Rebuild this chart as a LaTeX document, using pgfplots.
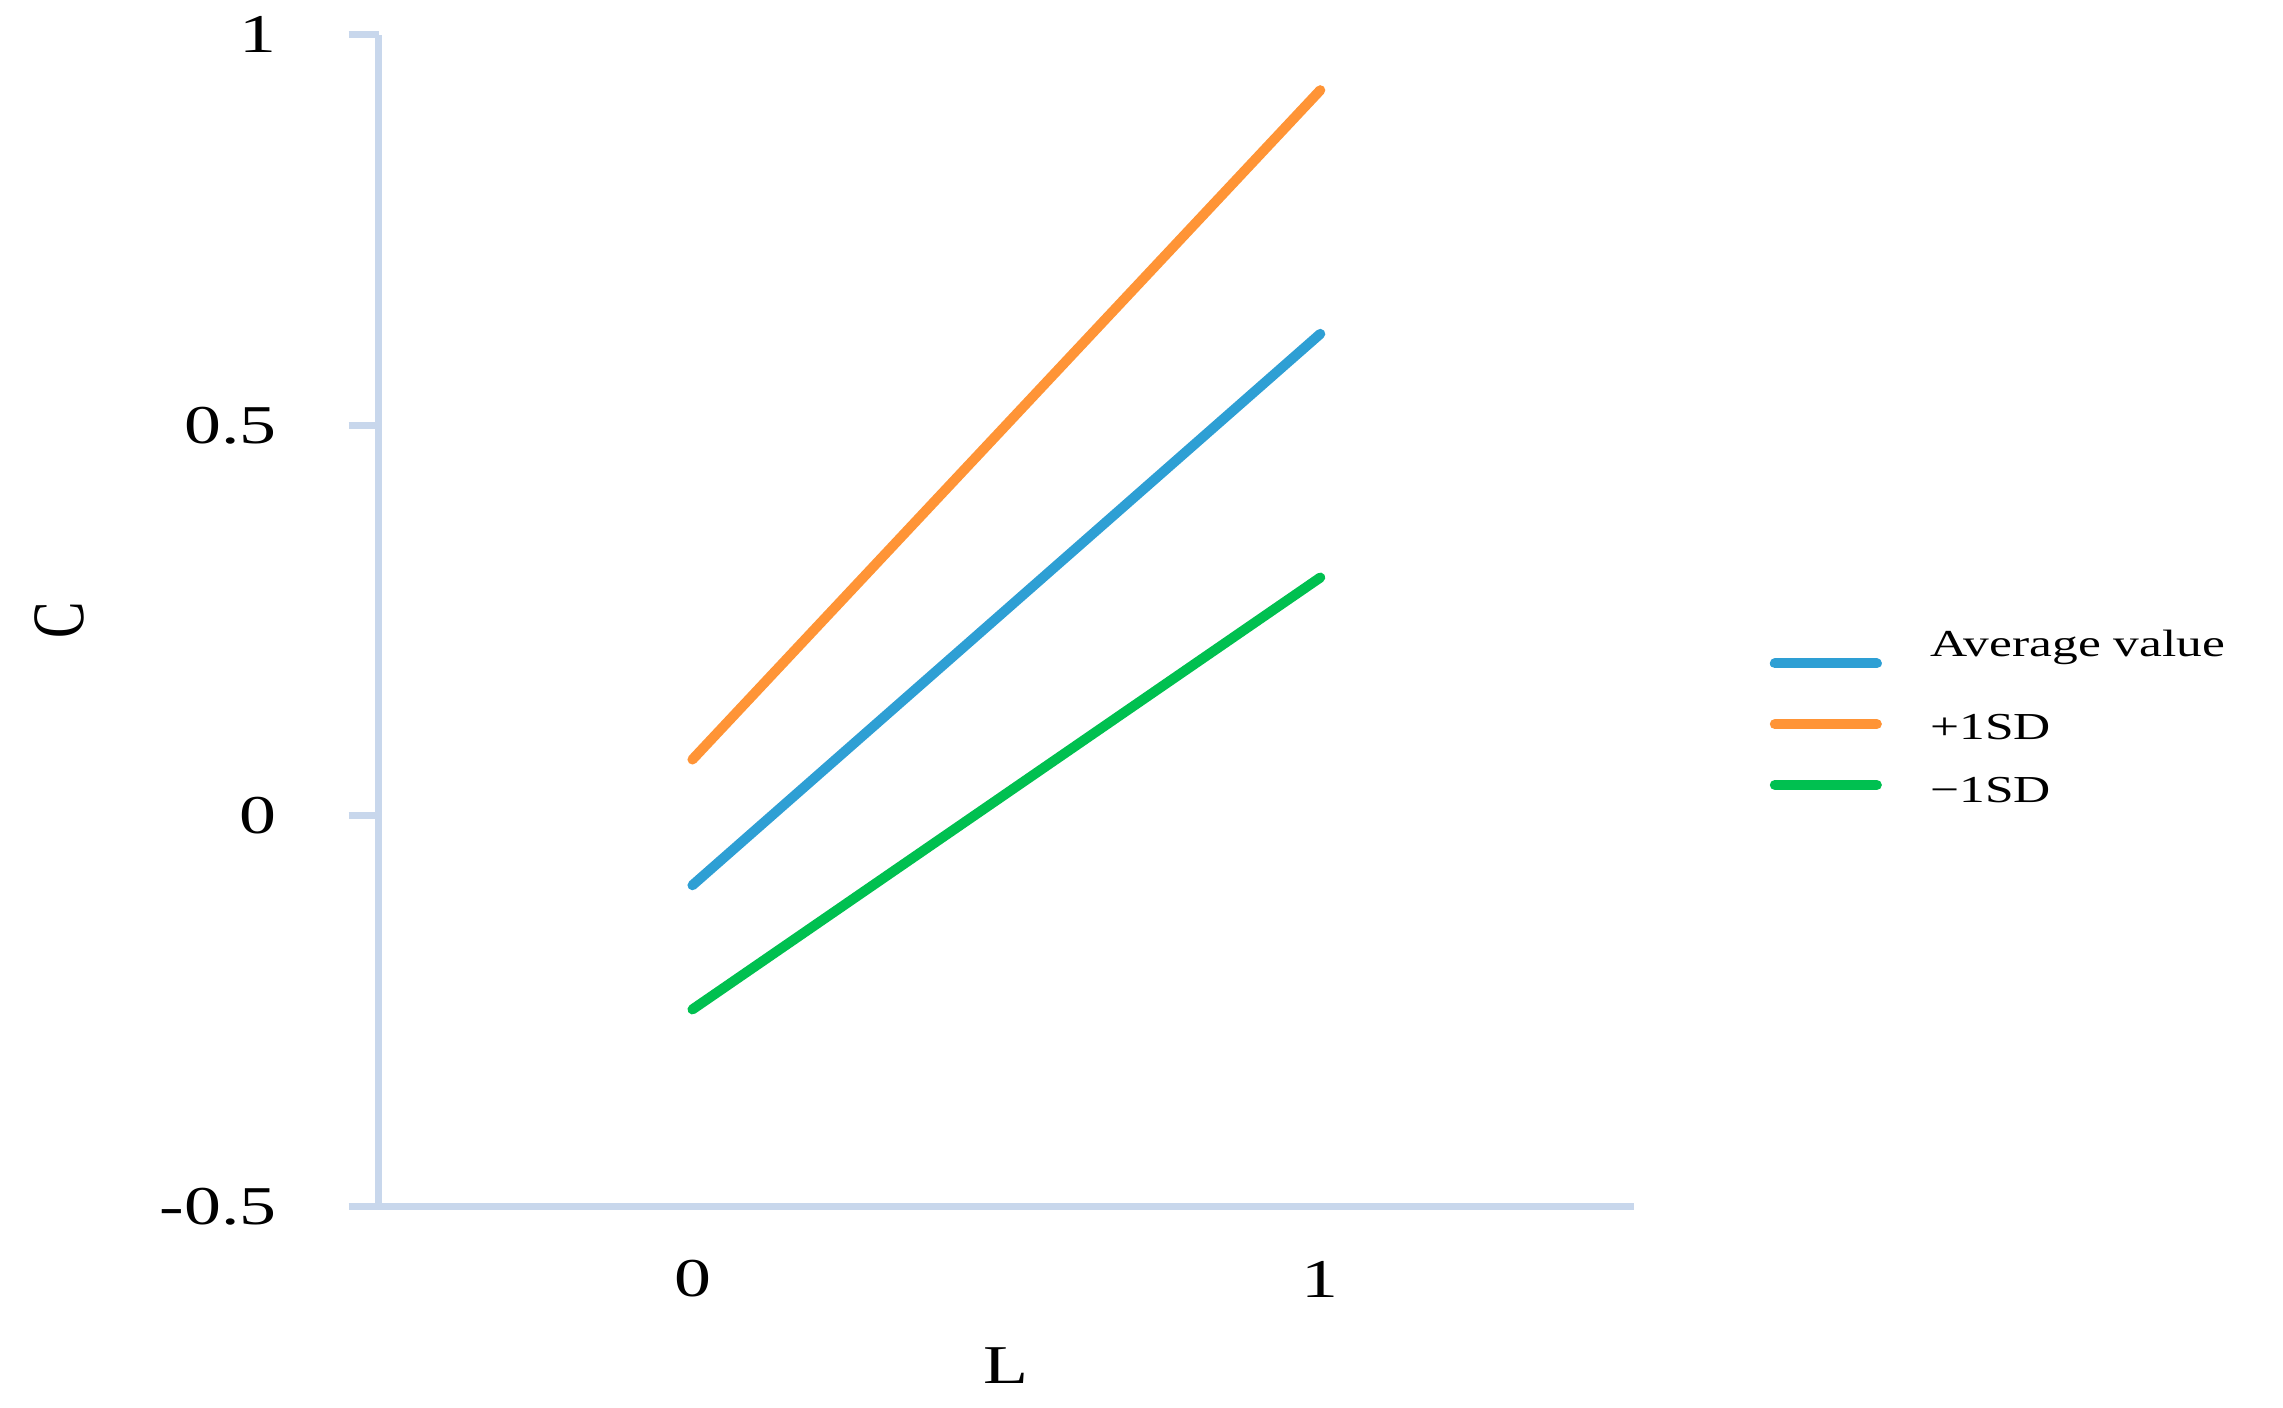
\documentclass[border=0pt]{standalone}
\usepackage{fontspec}
\setmainfont{Liberation Serif}
\usepackage{graphicx}
\usepackage{pgfplots}
\pgfplotsset{compat=1.18}
\definecolor{axisline}{HTML}{C8D7EC}
\definecolor{avgblue}{HTML}{2E9FD4}
\definecolor{sdorange}{HTML}{FF9436}
\definecolor{sdgreen}{HTML}{00C050}
\newcommand{\legtext}[1]{\scalebox{1.35}[1]{\fontsize{7.6}{9}\selectfont #1}}

\begin{document}
\begin{tikzpicture}
\begin{axis}[
    scale only axis,
    width=8.80cm, height=8.21cm,
    xmin=-0.5, xmax=1.5, ymin=-0.5, ymax=1,
    axis x line*=bottom, axis y line*=left,
    axis line style={draw=axisline, line width=1.4pt, -},
    xtick={0,1}, xticklabels={0,1},
    ytick={-0.5,0,0.5,1}, yticklabels={-0.5,0,0.5,1},
    x tick style={draw=none},
    y tick style={draw=axisline, line width=1.4pt},
    tick align=outside,
    major tick length=0.21cm,
    tick label style={font=\fontsize{10.9}{13}\selectfont, xscale=1.35},
    y tick label style={anchor=east, xshift=-0.25cm},
    x tick label style={anchor=center, yshift=-0.30cm},
    xlabel={L}, ylabel={C},
    label style={font=\fontsize{10.9}{13}\selectfont},
    xlabel style={at={(axis description cs:0.5,-0.1364)}, anchor=center, xscale=1.35},
    ylabel style={at={(axis description cs:-0.2545,0.5)}, anchor=center, yscale=1.35},
    legend style={at={(axis description cs:1.108,0.4115)}, anchor=west,
        draw=none, fill=none, inner sep=0pt, outer sep=0pt, row sep=0.18cm,
        nodes={inner sep=0pt, text height=5.5pt, text depth=1.5pt},
        /tikz/every odd column/.append style={column sep=0.34cm}},
    legend cell align=left,
    legend image code/.code={\draw[#1] (0cm,0cm) -- (0.715cm,0cm);},
    every axis plot/.append style={line width=2pt, line cap=round, mark=none},
]
\addplot[avgblue] coordinates {(0,-0.089) (1,0.617)};
\addplot[sdorange] coordinates {(0,0.072) (1,0.929)};
\addplot[sdgreen] coordinates {(0,-0.248) (1,0.305)};
\legend{\legtext{\raisebox{0.12cm}{Average value}}, \legtext{\raisebox{-0.04cm}{+1SD}}, \legtext{\raisebox{-0.05cm}{−1SD}}}
\end{axis}
\path (current axis.south west) ++(-2.653cm,-1.409cm) rectangle ++(16cm,9.846cm);
\end{tikzpicture}
\end{document}
